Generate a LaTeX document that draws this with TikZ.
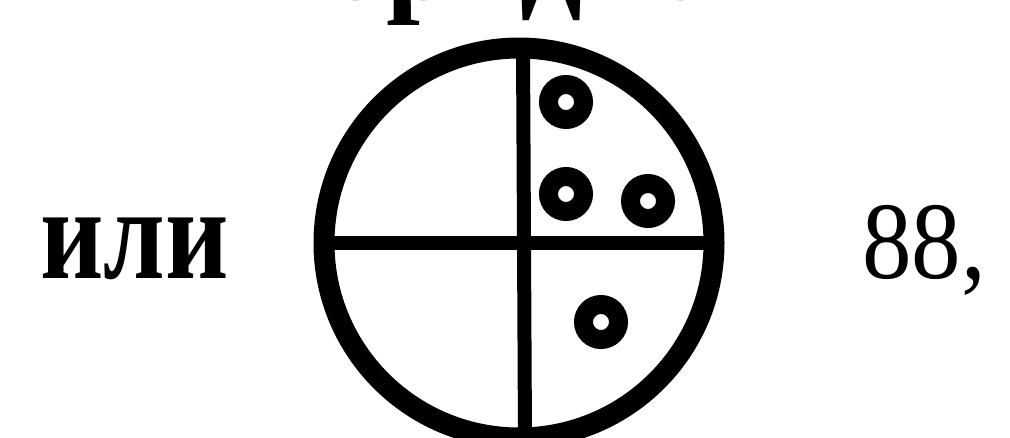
\documentclass[tikz,border=0pt]{standalone}
\usepackage{fontspec}
\setmainfont{Liberation Serif}
\begin{document}
\begin{tikzpicture}[x=1pt,y=-1pt,
  ring/.style={draw=black,line width=19pt,circle,minimum size=35pt,inner sep=0pt},
  bigtext/.style={inner sep=0pt,anchor=base west}]
\useasboundingbox (0,0) rectangle (1010,437);
\fill[white] (0,0) rectangle (1010,437);
% partially visible heading
\node[bigtext,font=\fontsize{122}{130}\selectfont\bfseries] (head) at (255,-1) {порядковый н};
% big circle with cross
\draw[line width=21pt] (519,243) circle[radius=195pt];
\coordinate (l) at (326,243);
\coordinate (r) at (712,243);
\coordinate (t) at (523,46);
\coordinate (b) at (525,440);
\draw[line width=14pt] (l) -- (r);
\draw[line width=14pt] (t) -- (b);
% small rings
\node[ring] (r1) at (566,102) {};
\node[ring] (r2) at (566,194) {};
\node[ring] (r3) at (648,201) {};
\node[ring] (r4) at (601,322) {};
% texts
\node[bigtext,font=\fontsize{110}{120}\selectfont\bfseries,yscale=1.2] (ili) at (40,278) {или};
\node[bigtext,font=\fontsize{110}{120}\selectfont,xscale=0.9] (num) at (862,278) {88,};
\end{tikzpicture}
\end{document}
